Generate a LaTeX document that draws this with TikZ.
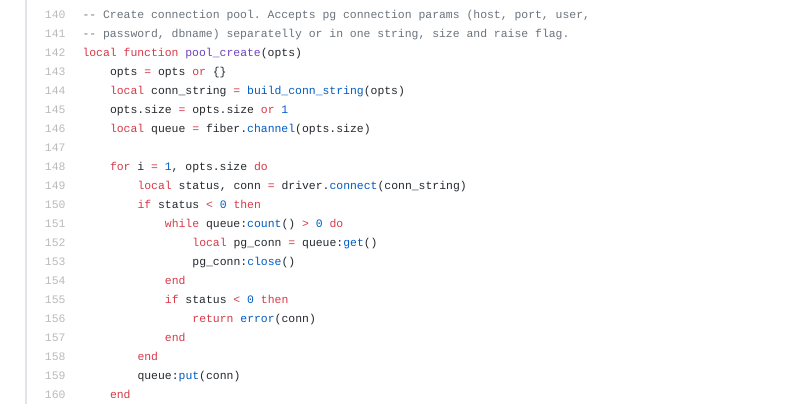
\documentclass[tikz,border=0pt]{standalone}
\usepackage{xcolor}
\usepackage{fontspec}
\setmonofont{Liberation Mono}
\usepackage{tikz}
\usetikzlibrary{positioning}

\definecolor{cmtgray}{HTML}{6A737D}
\definecolor{kwred}{HTML}{D73A49}
\definecolor{fnpurple}{HTML}{6F42C1}
\definecolor{bltblue}{HTML}{005CC5}
\definecolor{codetext}{HTML}{24292E}
\definecolor{numgray}{HTML}{BABBBD}
\definecolor{rulegray}{HTML}{E1E4E8}

\begin{document}
\begin{tikzpicture}[x=1bp,y=-1bp,
	every node/.style={inner sep=0pt,outer sep=0pt,font=\fontsize{11.43bp}{19bp}\ttfamily},
	lineno/.style={anchor=base east,text=numgray},
	codeline/.style={anchor=base west,text=codetext}]
	\useasboundingbox (0,0) rectangle (793,404);
	\fill[white] (0,0) rectangle (793,404);
	\draw[rulegray,line width=1.5bp] (26,0) -- (26,404);
	% line numbers
	\node[lineno] (n140) at (65.5,18.5) {140};
	\node[lineno] (n141) at (65.5,37.5) {141};
	\node[lineno] (n142) at (65.5,56.5) {142};
	\node[lineno] (n143) at (65.5,75.5) {143};
	\node[lineno] (n144) at (65.5,94.5) {144};
	\node[lineno] (n145) at (65.5,113.5) {145};
	\node[lineno] (n146) at (65.5,132.5) {146};
	\node[lineno] (n147) at (65.5,151.5) {147};
	\node[lineno] (n148) at (65.5,170.5) {148};
	\node[lineno] (n149) at (65.5,189.5) {149};
	\node[lineno] (n150) at (65.5,208.5) {150};
	\node[lineno] (n151) at (65.5,227.5) {151};
	\node[lineno] (n152) at (65.5,246.5) {152};
	\node[lineno] (n153) at (65.5,265.5) {153};
	\node[lineno] (n154) at (65.5,284.5) {154};
	\node[lineno] (n155) at (65.5,303.5) {155};
	\node[lineno] (n156) at (65.5,322.5) {156};
	\node[lineno] (n157) at (65.5,341.5) {157};
	\node[lineno] (n158) at (65.5,360.5) {158};
	\node[lineno] (n159) at (65.5,379.5) {159};
	\node[lineno] (n160) at (65.5,398.5) {160};
	% code
	\node[codeline,text=cmtgray] (c140) at (82.5,18.5) {-- Create connection pool. Accepts pg connection params (host, port, user,};
	\node[codeline,text=cmtgray] (c141) at (82.5,37.5) {-- password, dbname) separatelly or in one string, size and raise flag.};
	\node[codeline] (c142) at (82.5,56.5) {\textcolor{kwred}{local function} \textcolor{fnpurple}{pool\_create}(opts)};
	\node[codeline] (c143) at (110,75.5) {opts \textcolor{kwred}{=} opts \textcolor{kwred}{or} \{\}};
	\node[codeline] (c144) at (110,94.5) {\textcolor{kwred}{local} conn\_string \textcolor{kwred}{=} \textcolor{bltblue}{build\_conn\_string}(opts)};
	\node[codeline] (c145) at (110,113.5) {opts.size \textcolor{kwred}{=} opts.size \textcolor{kwred}{or} \textcolor{bltblue}{1}};
	\node[codeline] (c146) at (110,132.5) {\textcolor{kwred}{local} queue \textcolor{kwred}{=} fiber.\textcolor{bltblue}{channel}(opts.size)};
	\node[codeline] (c148) at (110,170.5) {\textcolor{kwred}{for} i \textcolor{kwred}{=} \textcolor{bltblue}{1}, opts.size \textcolor{kwred}{do}};
	\node[codeline] (c149) at (137.5,189.5) {\textcolor{kwred}{local} status, conn \textcolor{kwred}{=} driver.\textcolor{bltblue}{connect}(conn\_string)};
	\node[codeline] (c150) at (137.5,208.5) {\textcolor{kwred}{if} status \textcolor{kwred}{<} \textcolor{bltblue}{0} \textcolor{kwred}{then}};
	\node[codeline] (c151) at (164.9,227.5) {\textcolor{kwred}{while} queue:\textcolor{bltblue}{count}() \textcolor{kwred}{>} \textcolor{bltblue}{0} \textcolor{kwred}{do}};
	\node[codeline] (c152) at (192.4,246.5) {\textcolor{kwred}{local} pg\_conn \textcolor{kwred}{=} queue:\textcolor{bltblue}{get}()};
	\node[codeline] (c153) at (192.4,265.5) {pg\_conn:\textcolor{bltblue}{close}()};
	\node[codeline,text=kwred] (c154) at (164.9,284.5) {end};
	\node[codeline] (c155) at (164.9,303.5) {\textcolor{kwred}{if} status \textcolor{kwred}{<} \textcolor{bltblue}{0} \textcolor{kwred}{then}};
	\node[codeline] (c156) at (192.4,322.5) {\textcolor{kwred}{return} \textcolor{bltblue}{error}(conn)};
	\node[codeline,text=kwred] (c157) at (164.9,341.5) {end};
	\node[codeline,text=kwred] (c158) at (137.5,360.5) {end};
	\node[codeline] (c159) at (137.5,379.5) {queue:\textcolor{bltblue}{put}(conn)};
	\node[codeline,text=kwred] (c160) at (110,398.5) {end};
\end{tikzpicture}
\end{document}
